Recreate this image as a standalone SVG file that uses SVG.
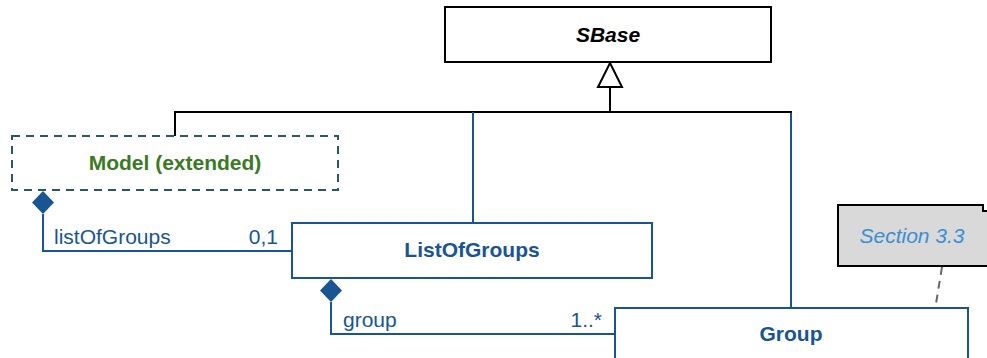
<svg xmlns="http://www.w3.org/2000/svg" width="987" height="358" viewBox="0 0 987 358">
<style>
text{font-family:"Liberation Sans",Arial,sans-serif;font-size:21px}
.blue{stroke:#1a5593;stroke-width:2;fill:none}
.box{stroke:#1a5593;stroke-width:2;fill:#fff}
.blk{stroke:#000;stroke-width:2;fill:none}
.lbl{fill:#1a5593}
.bt{fill:#1a5593;font-weight:bold;text-anchor:middle}
</style>
<defs>
<path id="dia" d="M0,0 L11,11.5 L0,23 L-11,11.5 Z" fill="#1a5593"/>
</defs>
<g id="connectors">
<path class="blk" d="M175,136 V112 H792"/>
<path class="blk" d="M610,112 V87"/>
<path d="M610,63 L622,87 L598,87 Z" fill="#fff" stroke="#000" stroke-width="2"/>
<path class="blue" d="M473,112 V223"/>
<path class="blue" d="M791,113 V308"/>
<path class="blue" d="M43,214 V251 H292"/>
<use href="#dia" x="43" y="191"/>
<path class="blue" d="M331,302 V334 H615"/>
<use href="#dia" x="331" y="279"/>
<path d="M942,267 L934,316" stroke="#666" stroke-width="2" stroke-dasharray="8,6" fill="none"/>
<text class="lbl" x="54" y="244">listOfGroups</text>
<text class="lbl" x="278" y="244" text-anchor="end">0,1</text>
<text class="lbl" x="343" y="327">group</text>
<text class="lbl" x="602" y="327" text-anchor="end">1..*</text>
</g>
<g id="SBase">
<rect x="445" y="7" width="326" height="55" fill="#fff" stroke="#000" stroke-width="2"/>
<text x="608" y="42" text-anchor="middle" font-weight="bold" font-style="italic" fill="#000">SBase</text>
</g>
<g id="Model">
<rect x="12" y="136" width="326" height="54" fill="#fff" stroke="#2a5a60" stroke-width="2" stroke-dasharray="8,6"/>
<text x="175" y="170" text-anchor="middle" font-weight="bold" fill="#3b7a25">Model (extended)</text>
</g>
<g id="ListOfGroups">
<rect class="box" x="292" y="223" width="360" height="55"/>
<text class="bt" x="472" y="257">ListOfGroups</text>
</g>
<g id="Group">
<rect class="box" x="615" y="308" width="353" height="60"/>
<text class="bt" x="791" y="341">Group</text>
</g>
<g id="Note">
<path d="M838,205 H983 V211 H992 V266 H838 Z" fill="#d9d9d9" stroke="#000" stroke-width="2"/>
<text x="912" y="243" text-anchor="middle" font-style="italic" fill="#3a8ed2">Section 3.3</text>
</g>
</svg>
